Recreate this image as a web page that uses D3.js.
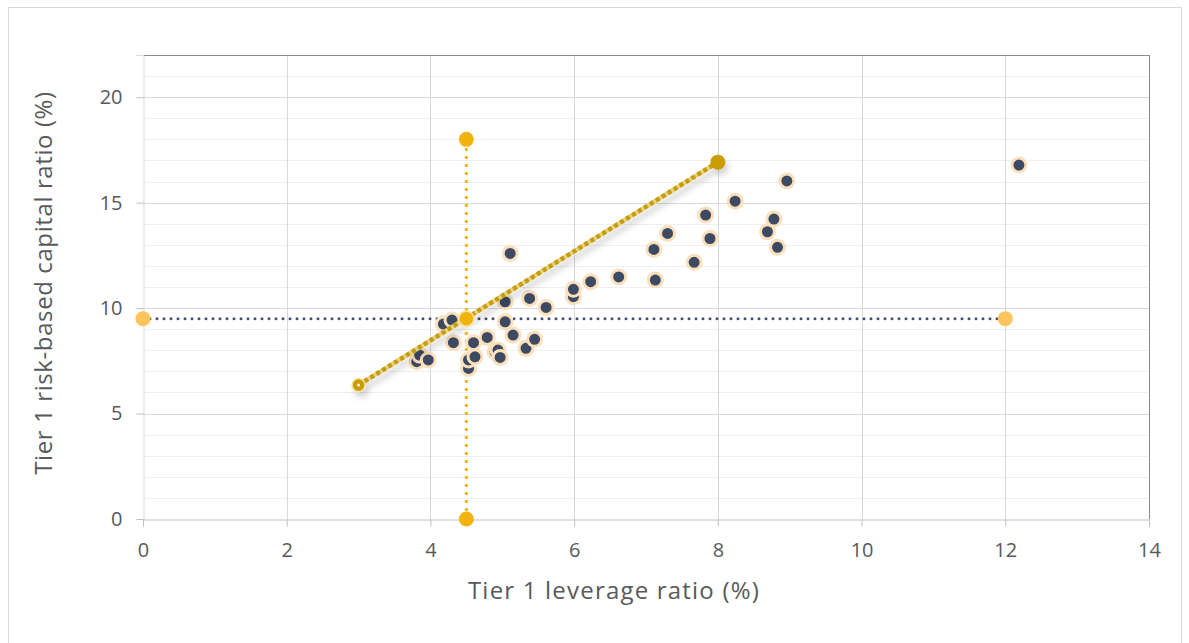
<!DOCTYPE html>
<html>
<head>
<meta charset="utf-8">
<script src="https://d3js.org/d3.v7.min.js"></script>
<style>
  body { margin: 0; background: #fff; }
  text { font-family: "Open Sans", "Liberation Sans", sans-serif; fill: #595959; }
</style>
</head>
<body>
<script>
// bank data: tier 1 leverage ratio (x) and tier 1 risk-based capital ratio (y)
var leverage = [3.81, 3.85, 3.97, 4.18, 4.30, 4.32, 4.53, 4.53, 4.62, 4.60, 4.79, 4.90, 4.94, 4.97,
                5.04, 5.04, 5.11, 5.15, 5.33, 5.38, 5.45, 5.61, 5.99, 5.99, 6.23, 6.62, 7.11, 7.13,
                7.30, 7.67, 7.83, 7.89, 8.24, 8.69, 8.78, 8.83, 8.96, 12.19];
var capital  = [7.46, 7.77, 7.54, 9.24, 9.43, 8.36, 7.14, 7.54, 7.69, 8.36, 8.61, 7.93, 8.01, 7.66,
                9.35, 10.30, 12.59, 8.72, 8.09, 10.46, 8.52, 10.03, 10.54, 10.89, 11.25, 11.48, 12.78, 11.33,
                13.54, 12.17, 14.41, 13.30, 15.07, 13.62, 14.22, 12.88, 16.03, 16.78];

// reference lines
var horizX = [0, 12], horizY = [9.5, 9.5];
var vertX = [4.5, 4.5], vertY = [0, 18];
var crossX = [4.5], crossY = [9.5];
var trendX = [3, 8], trendY = [6.35, 16.92];

var xTicks = [0, 2, 4, 6, 8, 10, 12, 14];
var yTicks = [0, 5, 10, 15, 20];

var width = 1189, height = 643;
var mLeft = 143, mRight = 1149, mTop = 55, mBottom = 519;

var svg = d3.select("body").append("svg")
  .attr("width", width).attr("height", height);

var defs = svg.append("defs");
var f = defs.append("filter").attr("id", "shadow")
  .attr("x", "-20%").attr("y", "-20%").attr("width", "140%").attr("height", "160%");
f.append("feDropShadow").attr("dx", 3).attr("dy", 5).attr("stdDeviation", 3)
  .attr("flood-color", "#000").attr("flood-opacity", 0.18);

// outer frame
svg.append("rect").attr("x", 8.5).attr("y", 7.5).attr("width", 1173).attr("height", 650)
  .attr("fill", "#fff").attr("stroke", "#d9d9d9");

var x = d3.scaleLinear().domain([0, 14]).range([mLeft, mRight]);
var y = d3.scaleLinear().domain([0, 22]).range([mBottom, mTop]);

// minor horizontal gridlines
svg.append("g").selectAll("line").data(d3.range(1, 23)).join("line")
  .attr("x1", mLeft).attr("x2", mRight)
  .attr("y1", function(d){ return Math.round(y(d)) + 0.5; })
  .attr("y2", function(d){ return Math.round(y(d)) + 0.5; })
  .attr("stroke", "#efefef");

// major gridlines
svg.append("g").selectAll("line").data(yTicks.slice(1)).join("line")
  .attr("x1", mLeft).attr("x2", mRight)
  .attr("y1", function(d){ return Math.round(y(d)) + 0.5; })
  .attr("y2", function(d){ return Math.round(y(d)) + 0.5; })
  .attr("stroke", "#d9d9d9");
svg.append("g").selectAll("line").data(xTicks.slice(1, -1)).join("line")
  .attr("y1", mTop).attr("y2", mBottom)
  .attr("x1", function(d){ return Math.round(x(d)) + 0.5; })
  .attr("x2", function(d){ return Math.round(x(d)) + 0.5; })
  .attr("stroke", "#d9d9d9");

// plot border
svg.append("line").attr("x1", mLeft).attr("x2", mRight).attr("y1", mTop + 0.5).attr("y2", mTop + 0.5)
  .attr("stroke", "#8c8c8c");
svg.append("line").attr("x1", mRight + 0.5).attr("x2", mRight + 0.5).attr("y1", mTop).attr("y2", mBottom)
  .attr("stroke", "#8c8c8c");

// axes
var xAxis = svg.append("g").attr("transform", "translate(0," + (mBottom + 0.5) + ")")
  .call(d3.axisBottom(x).tickValues(xTicks).tickSize(7).tickPadding(16));
var yAxis = svg.append("g").attr("transform", "translate(" + (mLeft + 0.5) + ",0)")
  .call(d3.axisLeft(y).tickValues(yTicks).tickSize(7).tickPadding(14));
xAxis.select(".domain").attr("stroke", "#bfbfbf");
yAxis.select(".domain").attr("stroke", "#d9d9d9");
xAxis.selectAll(".tick line").attr("stroke", "#bfbfbf");
yAxis.selectAll(".tick line").attr("stroke", "#bfbfbf");
svg.selectAll(".tick text")
  .style("font-size", "20px").style("fill", "#595959")
  .style("font-family", "'Open Sans', sans-serif");

// axis titles
svg.append("text").attr("x", 614).attr("y", 599)
  .attr("text-anchor", "middle").style("font-size", "24px").style("letter-spacing", "1.2px")
  .text("Tier 1 leverage ratio (%)");
svg.append("text").attr("transform", "translate(52,283) rotate(-90)")
  .attr("text-anchor", "middle").style("font-size", "24px").style("letter-spacing", "0.6px")
  .text("Tier 1 risk-based capital ratio (%)");

var line = d3.line().x(function(d){ return x(d[0]); }).y(function(d){ return y(d[1]); });

// horizontal dotted line
svg.append("path").datum(d3.zip(horizX, horizY)).attr("d", line)
  .attr("fill", "none").attr("stroke", "#44506e").attr("stroke-width", 3)
  .attr("stroke-dasharray", "0 7").attr("stroke-linecap", "round");

// vertical dotted line
svg.append("path").datum(d3.zip(vertX, vertY)).attr("d", line)
  .attr("fill", "none").attr("stroke", "#f2b81a").attr("stroke-width", 3)
  .attr("stroke-dasharray", "3 5");

// bank points
svg.append("g").selectAll("circle").data(d3.zip(leverage, capital)).join("circle")
  .attr("cx", function(d){ return x(d[0]); }).attr("cy", function(d){ return y(d[1]); })
  .attr("r", 7).attr("fill", "#3e4a62").attr("stroke", "#fbe0bd").attr("stroke-width", 3);

// trend line
var trend = svg.append("g").attr("filter", "url(#shadow)");
trend.append("path").datum(d3.zip(trendX, trendY)).attr("d", line)
  .attr("fill", "none").attr("stroke", "#e8d17a").attr("stroke-width", 4.5);
trend.append("path").datum(d3.zip(trendX, trendY)).attr("d", line)
  .attr("fill", "none").attr("stroke", "#c49c10").attr("stroke-width", 4.5)
  .attr("stroke-dasharray", "4 3");
trend.append("circle").attr("cx", x(trendX[1])).attr("cy", y(trendY[1])).attr("r", 7.5)
  .attr("fill", "#c99c06");
trend.append("circle").attr("cx", x(trendX[0])).attr("cy", y(trendY[0])).attr("r", 6.5)
  .attr("fill", "#c99c06").attr("stroke", "#f5e3a6").attr("stroke-width", 1.5);
trend.append("circle").attr("cx", x(trendX[0])).attr("cy", y(trendY[0])).attr("r", 1.5)
  .attr("fill", "#fff");

// endpoints
svg.append("g").selectAll("circle").data(d3.zip(horizX, horizY)).join("circle")
  .attr("cx", function(d){ return x(d[0]); }).attr("cy", function(d){ return y(d[1]); })
  .attr("r", 7.5).attr("fill", "#ffc55c");
svg.append("g").selectAll("circle").data(d3.zip(vertX, vertY)).join("circle")
  .attr("cx", function(d){ return x(d[0]); }).attr("cy", function(d){ return y(d[1]); })
  .attr("r", 7.5).attr("fill", "#f2b40c");
svg.append("g").selectAll("circle").data(d3.zip(crossX, crossY)).join("circle")
  .attr("cx", function(d){ return x(d[0]); }).attr("cy", function(d){ return y(d[1]); })
  .attr("r", 7.5).attr("fill", "#f0b30a").attr("stroke", "#fbe2a0").attr("stroke-width", 1.5);
</script>
</body>
</html>
